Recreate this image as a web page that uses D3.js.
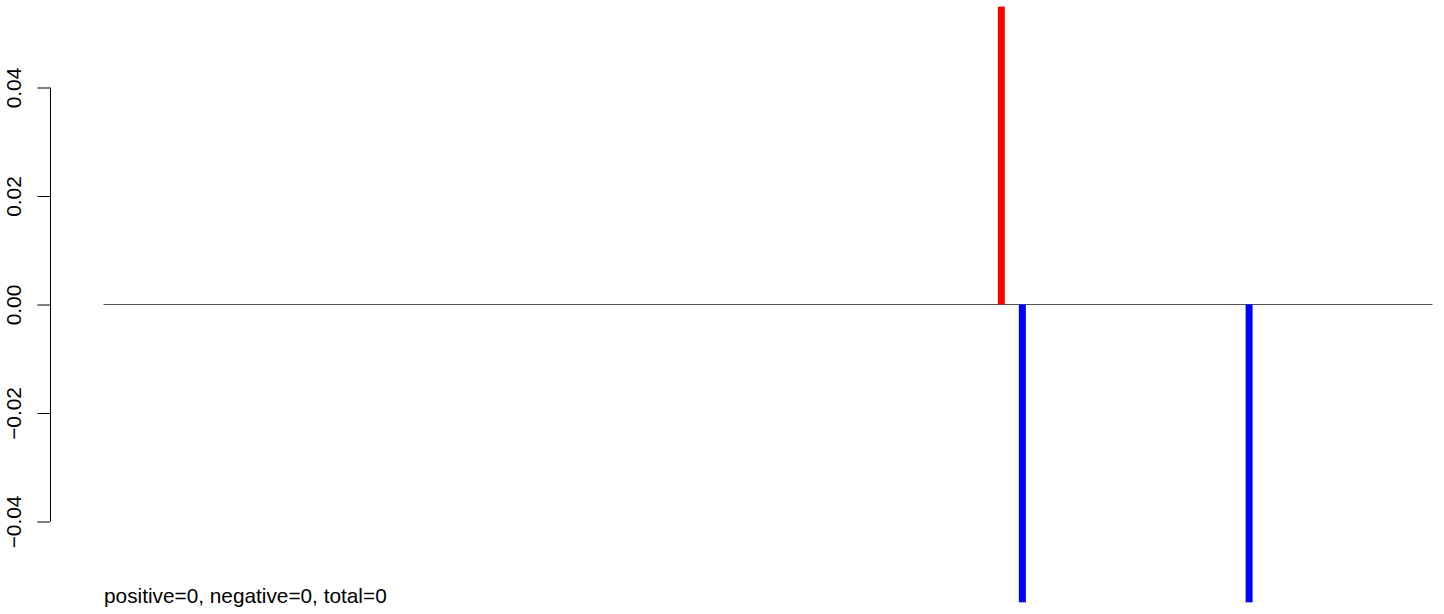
<!DOCTYPE html>
<html><head><meta charset="utf-8">
<script src="https://cdn.jsdelivr.net/npm/d3@7"></script>
<style>html,body{margin:0;padding:0;background:#fff;}svg{display:block;}</style>
</head><body>
<script>
const positions = [67.56, 69.14, 86.2];
const values = [0.0549, -0.0549, -0.0549];
const barColors = ["#ff0000", "#0000ff", "#0000ff"];
const yTicks = [-0.04, -0.02, 0.00, 0.02, 0.04];
const yTickLabels = ["\u22120.04", "\u22120.02", "0.00", "0.02", "0.04"];
const summary = "positive=0, negative=0, total=0";

const W = 1444, H = 614;
const svg = d3.select("body").append("svg").attr("width", W).attr("height", H);

const x = d3.scaleLinear().domain([0, 100]).range([103.5, 1432.5]);
const y = d3.scaleLinear().domain([-0.04, 0.04]).range([521.5, 87.5]);

// zero line
svg.append("line")
  .attr("x1", x(0)).attr("x2", x(100))
  .attr("y1", y(0)).attr("y2", y(0))
  .attr("stroke", "#555").attr("stroke-width", 1);

// bars
svg.selectAll("rect.bar").data(positions).enter().append("rect")
  .attr("class", "bar")
  .attr("x", (d) => x(d) - 3.5)
  .attr("width", 7)
  .attr("y", (d, i) => Math.min(y(values[i]), y(0)))
  .attr("height", (d, i) => Math.abs(y(values[i]) - y(0)))
  .attr("fill", (d, i) => barColors[i]);

// y axis
const axis = d3.axisLeft(y).tickValues(yTicks).tickSize(12.5)
  .tickFormat((d, i) => yTickLabels[i]);
const g = svg.append("g").attr("transform", "translate(50,0)").call(axis);
g.select(".domain").attr("stroke", "#000").attr("stroke-width", 1)
  .attr("d", `M0.5,${y(-0.04)}V${y(0.04)}`);
g.selectAll(".tick line").attr("stroke", "#000");
g.selectAll(".tick text")
  .attr("x", null).attr("dy", null)
  .attr("transform", "translate(-29.5,0) rotate(-90)")
  .attr("text-anchor", "middle")
  .attr("font-family", "Liberation Sans, Arial, sans-serif")
  .attr("font-size", 20.8).attr("fill", "#000");

svg.append("text").attr("x", 104).attr("y", 603)
  .attr("font-family", "Liberation Sans, Arial, sans-serif")
  .attr("font-size", 20.8).attr("fill", "#000")
  .text(summary);
</script>
</body></html>
